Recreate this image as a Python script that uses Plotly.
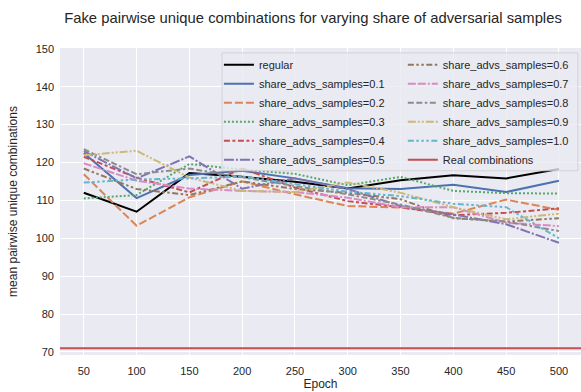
import plotly.graph_objects as go

# Epochs at which the generators were evaluated
epochs = [50, 100, 150, 200, 250, 300, 350, 400, 450, 500]

# Mean pairwise unique combinations of generated (fake) samples
regular = [112.0, 107.0, 117.2, 116.2, 114.9, 113.1, 115.3, 116.6, 115.8, 118.3]
share_01 = [122.5, 110.6, 116.7, 117.8, 115.8, 113.2, 113.0, 114.1, 112.2, 115.2]
share_02 = [116.9, 103.3, 110.8, 115.0, 111.6, 108.5, 108.1, 106.5, 110.2, 107.5]
share_03 = [110.5, 111.4, 119.6, 118.1, 117.0, 114.0, 116.2, 112.5, 111.9, 111.8]
share_04 = [121.5, 116.0, 112.1, 118.4, 113.4, 109.8, 108.2, 106.1, 106.7, 107.9]
share_05 = [123.0, 115.8, 121.6, 113.1, 115.8, 113.0, 108.5, 106.3, 103.7, 98.8]
share_06 = [118.4, 113.0, 111.4, 115.0, 113.0, 112.0, 110.3, 105.3, 104.4, 105.3]
share_07 = [119.8, 115.2, 113.1, 112.5, 112.2, 110.7, 108.2, 108.2, 104.1, 103.2]
share_08 = [123.5, 116.9, 118.4, 116.0, 113.8, 111.6, 108.9, 105.4, 104.4, 101.9]
share_09 = [121.9, 123.1, 116.0, 112.5, 112.2, 114.7, 112.0, 108.2, 105.0, 106.5]
share_10 = [114.7, 115.5, 115.8, 116.3, 114.3, 112.3, 111.1, 109.1, 108.2, 100.0]

# Reference value measured on the real data
real_combinations = 71.0

share_labels = ["0.1", "0.2", "0.3", "0.4", "0.5", "0.6", "0.7", "0.8", "0.9", "1.0"]
share_series = [share_01, share_02, share_03, share_04, share_05,
                share_06, share_07, share_08, share_09, share_10]

# seaborn "deep" palette and seaborn-style dash sequences (in line widths)
palette = ["#4C72B0", "#DD8452", "#55A868", "#C44E52", "#8172B3",
           "#937860", "#DA8BC3", "#8C8C8C", "#CCB974", "#64B5CD"]
dash_units = [None, (4, 1.5), (1, 1), (3, 1.25, 1.5, 1.25), (5, 1, 1, 1),
              (3, 1.25, 1.25, 1.25, 1.25, 1.25), (4, 1, 4, 1, 1, 1),
              (3, 1.25, 3, 1.25, 1.25, 1.25), (4, 1, 1, 1, 1, 1),
              (3, 1.25, 1.25, 1.25, 1.25, 1.25, 1.25, 1.25)]

LW = 2.0
FONT = "Liberation Sans, Arial, sans-serif"
TEXT = "#262626"
X_RANGE = [27.5, 520.9]
Y_RANGE = [69.2, 150.2]


def dash_of(units):
    if units is None:
        return "solid"
    return ",".join(f"{u * LW:.1f}px" for u in units)


fig = go.Figure()

fig.add_trace(go.Scatter(
    x=epochs, y=regular, mode="lines", name="regular",
    line=dict(color="black", width=LW), legend="legend", legendrank=1))

for i, (lab, ys) in enumerate(zip(share_labels, share_series)):
    fig.add_trace(go.Scatter(
        x=epochs, y=ys, mode="lines", name=f"share_advs_samples={lab}",
        line=dict(color=palette[i], width=LW, dash=dash_of(dash_units[i])),
        legend="legend" if i < 5 else "legend2", legendrank=i + 2))

fig.add_trace(go.Scatter(
    x=X_RANGE, y=[real_combinations, real_combinations], mode="lines",
    name="Real combinations", line=dict(color="#C44E52", width=LW),
    legend="legend2", legendrank=20))

legend_common = dict(
    bgcolor="rgba(0,0,0,0)", borderwidth=0, itemwidth=30,
    font=dict(family=FONT, size=11, color=TEXT),
    yanchor="top", xanchor="left", tracegroupgap=0, traceorder="normal",
)

fig.update_layout(
    width=581, height=392,
    margin=dict(l=60, r=0, t=48, b=37),
    paper_bgcolor="white", plot_bgcolor="#EAEAF2",
    font=dict(family=FONT, size=11, color=TEXT),
    title=dict(text="Fake pairwise unique combinations for varying share of adversarial samples",
               x=313 / 581, xref="container", xanchor="center",
               y=1 - 18 / 392, yref="container", yanchor="middle",
               font=dict(family=FONT, size=14.8, color=TEXT)),
    legend=dict(x=0.305, y=0.993, **legend_common),
    legend2=dict(x=0.658, y=0.993, **legend_common),
    showlegend=True,
    shapes=[dict(type="rect", xref="paper", yref="paper",
                 x0=0.311, x1=0.994, y0=0.6, y1=0.984,
                 fillcolor="rgba(234,234,242,0.8)",
                 line=dict(color="rgba(204,204,204,0.8)", width=1),
                 layer="above")],
)

fig.update_xaxes(
    range=X_RANGE, tickvals=epochs, ticks="", showline=False, zeroline=False,
    gridcolor="white", gridwidth=1, ticklabelstandoff=8,
    tickfont=dict(family=FONT, size=11, color=TEXT),
    title=dict(text="Epoch", font=dict(family=FONT, size=12, color=TEXT), standoff=3),
)
fig.update_yaxes(
    range=Y_RANGE, tickvals=[70, 80, 90, 100, 110, 120, 130, 140, 150],
    ticks="", showline=False, zeroline=False,
    gridcolor="white", gridwidth=1, ticklabelstandoff=5,
    tickfont=dict(family=FONT, size=11, color=TEXT),
    title=dict(text="mean pairwise unique combinations",
               font=dict(family=FONT, size=12, color=TEXT), standoff=15),
)

fig.write_html("out.html")
